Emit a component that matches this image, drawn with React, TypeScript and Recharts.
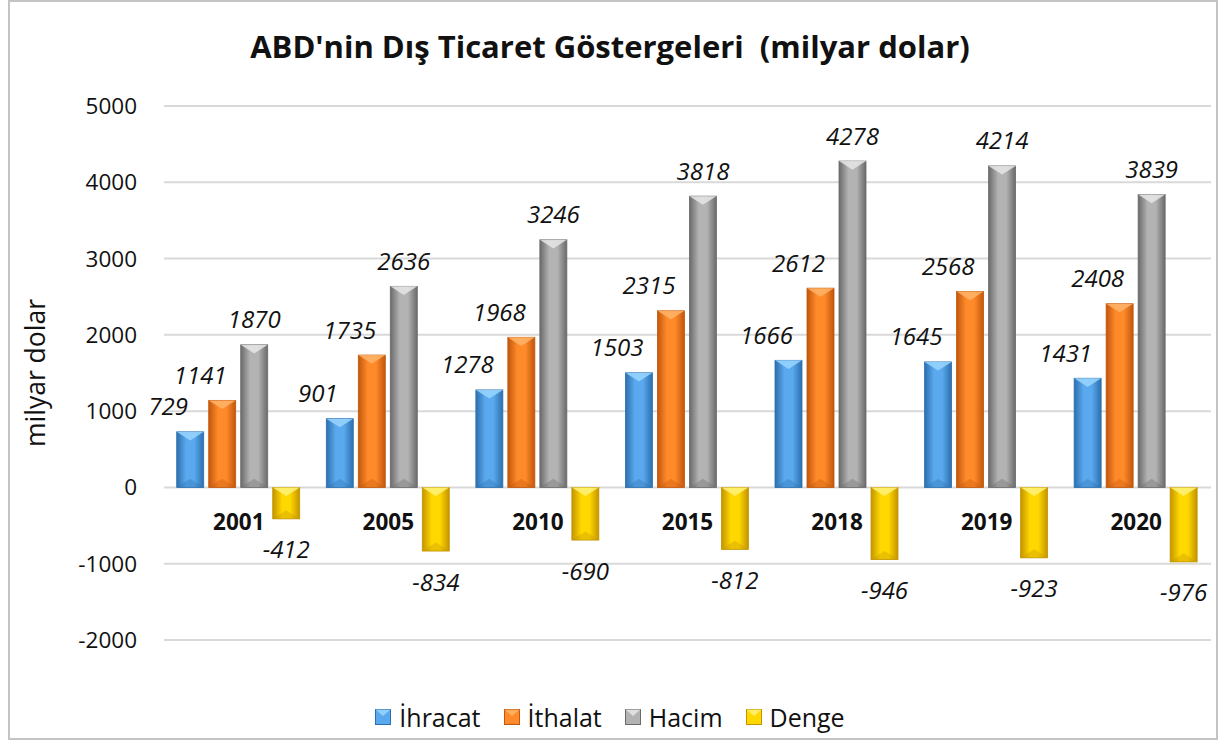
import React from 'react';
import {
  BarChart, Bar, XAxis, YAxis, CartesianGrid, Legend, LabelList, ReferenceDot,
} from 'recharts';

const years = ['2001', '2005', '2010', '2015', '2018', '2019', '2020'];
const ihracat = [729, 901, 1278, 1503, 1666, 1645, 1431];
const ithalat = [1141, 1735, 1968, 2315, 2612, 2568, 2408];
const hacim = [1870, 2636, 3246, 3818, 4278, 4214, 3839];
const denge = [-412, -834, -690, -812, -946, -923, -976];
const yTicks = [-2000, -1000, 0, 1000, 2000, 3000, 4000, 5000];

const data = years.map((y, i) => ({
  year: y,
  ihracat: ihracat[i],
  ithalat: ithalat[i],
  hacim: hacim[i],
  denge: denge[i],
}));

const FONT = '"Open Sans", "Noto Sans", sans-serif';

const SERIES = [
  { key: 'ihracat', name: 'İhracat', id: 'b', edge: '#2c6fae', mid: '#5aa9ee', top: '#9ad6ff', dx: -22 },
  { key: 'ithalat', name: 'İthalat', id: 'o', edge: '#c1560c', mid: '#ff8a2a', top: '#ffb46a', dx: -22 },
  { key: 'hacim', name: 'Hacim', id: 'g', edge: '#6a6a6a', mid: '#b3b3b3', top: '#e6e6e6', dx: 0 },
  { key: 'denge', name: 'Denge', id: 'y', edge: '#c39400', mid: '#ffd800', top: '#fff27a', dx: 0 },
];

// bevelled bar look like the excel one
const bevelShape = (s: typeof SERIES[number]) => (props: any) => {
  let { x, y, width, height } = props;
  if (height < 0) {
    y += height;
    height = -height;
  }
  if (!height) return null;
  const b = Math.min(width * 0.32, height / 2);
  return (
    <g>
      <rect x={x} y={y} width={width} height={height} fill={`url(#grad-${s.id})`} stroke={s.edge} strokeWidth={0.8} />
      <polygon
        points={`${x},${y} ${x + width},${y} ${x + width / 2},${y + b}`}
        fill={s.top}
        opacity={0.85}
      />
      <polygon
        points={`${x},${y + height} ${x + width},${y + height} ${x + width / 2},${y + height - b}`}
        fill={s.edge}
        opacity={0.35}
      />
    </g>
  );
};

const valueLabel = (dx: number) => (props: any) => {
  const { x, y, width, height, value } = props;
  const neg = value < 0;
  const cx = x + width / 2 + dx;
  const top = Math.min(y, y + height);
  const bottom = Math.max(y, y + height);
  const cy = neg ? bottom + 30 : top - 26;
  return (
    <text
      x={cx}
      y={cy}
      textAnchor="middle"
      dominantBaseline="central"
      fontFamily={FONT}
      fontStyle="italic"
      fontSize={24}
      fill="#111"
    >
      {value}
    </text>
  );
};

const yearLabel = (label: string) => (props: any) => (
  <text
    x={props.cx}
    y={props.cy + 34}
    textAnchor="middle"
    dominantBaseline="central"
    fontFamily={FONT}
    fontWeight="bold"
    fontSize={22.5}
    fill="#111"
  >
    {label}
  </text>
);

const LegendContent = () => (
  <div style={{ display: 'flex', justifyContent: 'center', alignItems: 'center', gap: 23, fontFamily: FONT, fontSize: 25, color: '#111', height: 30 }}>
    {SERIES.map((s) => (
      <div key={s.key} style={{ display: 'flex', alignItems: 'center', gap: 8 }}>
        <svg width={16} height={16}>
          <rect x={0.5} y={0.5} width={15} height={15} fill={s.mid} stroke={s.edge} />
          <polygon points="0.5,0.5 15.5,0.5 8,7" fill={s.top} opacity={0.85} />
        </svg>
        <span>{s.name}</span>
      </div>
    ))}
  </div>
);

export default function App() {
  return (
    <div style={{ position: 'absolute', left: 0, top: 0, width: 1220, height: 740, background: '#fff' }}>
      <div
        style={{
          position: 'absolute', left: 8, top: 0, width: 1210, height: 740,
          border: '2px solid #c4c4c4', boxSizing: 'border-box',
        }}
      />
      <div
        style={{
          position: 'absolute', left: 0, top: 25, width: 1220, textAlign: 'center',
          fontFamily: FONT, fontWeight: 'bold', fontSize: 31, color: '#111', whiteSpace: 'pre',
        }}
      >
        {"ABD'nin Dış Ticaret Göstergeleri  (milyar dolar)"}
      </div>
      <div style={{ position: 'absolute', left: 0, top: 0 }}>
        <BarChart
          width={1220}
          height={740}
          data={data}
          margin={{ top: 106, right: 9, bottom: 70, left: 94 }}
          barCategoryGap="8.5%"
          barGap={5}
        >
          <defs>
            {SERIES.map((s) => (
              <linearGradient key={s.id} id={`grad-${s.id}`} x1="0" y1="0" x2="1" y2="0">
                <stop offset="0%" stopColor={s.edge} />
                <stop offset="35%" stopColor={s.mid} />
                <stop offset="65%" stopColor={s.mid} />
                <stop offset="100%" stopColor={s.edge} />
              </linearGradient>
            ))}
          </defs>
          <CartesianGrid vertical={false} stroke="#d9d9d9" strokeWidth={2} />
          <XAxis dataKey="year" hide />
          <YAxis
            width={70}
            domain={[-2000, 5000]}
            ticks={yTicks}
            axisLine={false}
            tickLine={false}
            tickSize={0}
            tickMargin={27}
            tick={{ fill: '#111', fontSize: 22.5, fontFamily: FONT }}
            label={{
              value: 'milyar dolar', angle: -90, position: 'insideLeft', dx: -63,
              style: { textAnchor: 'middle', fill: '#111', fontSize: 26.5, fontFamily: FONT },
            }}
          />
          <Legend
            verticalAlign="bottom"
            content={<LegendContent />}
            wrapperStyle={{ top: 702, left: 0, width: 1220, bottom: 'auto' }}
          />
          {SERIES.map((s) => (
            <Bar key={s.key} dataKey={s.key} name={s.name} fill={s.mid} shape={bevelShape(s)} isAnimationActive={false}>
              <LabelList dataKey={s.key} content={valueLabel(s.dx)} />
            </Bar>
          ))}
          {years.map((y) => (
            <ReferenceDot key={y} x={y} y={0} r={0} shape={yearLabel(y)} />
          ))}
        </BarChart>
      </div>
    </div>
  );
}
